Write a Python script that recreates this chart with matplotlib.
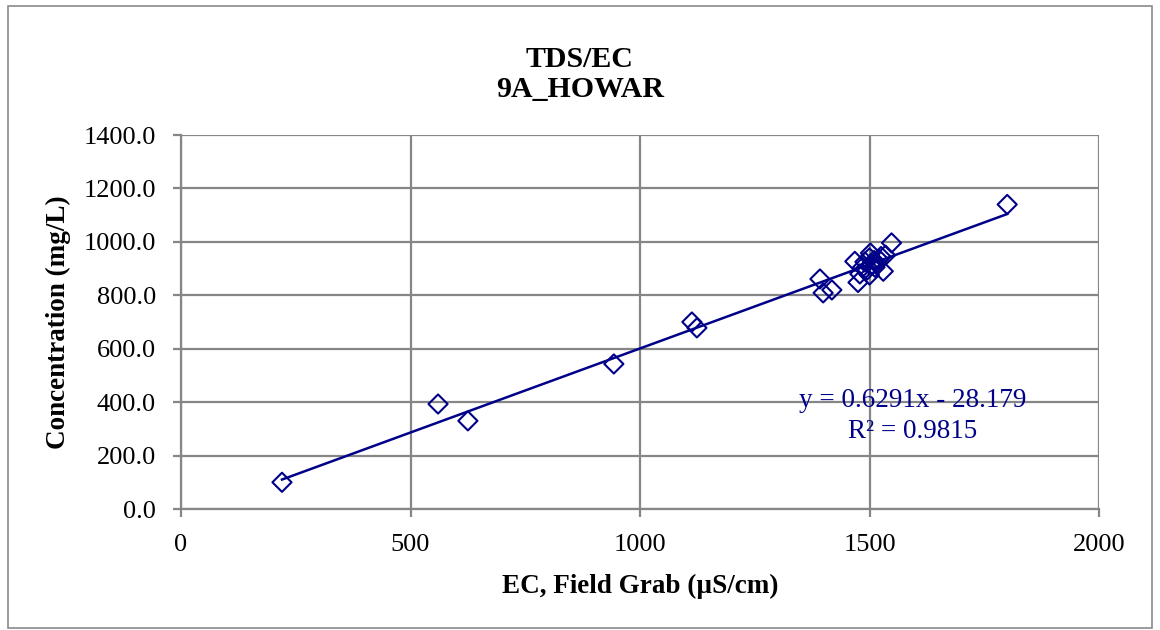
import matplotlib
matplotlib.use("Agg")
import matplotlib.pyplot as plt
from matplotlib.patches import Rectangle
import numpy as np

# Data
ec_field = [220, 560, 625, 943, 1113, 1124, 1392, 1399, 1418,
            1468, 1475, 1479, 1485, 1490, 1495, 1500, 1502, 1500, 1505,
            1510, 1515, 1520, 1525, 1530, 1535, 1512, 1548, 1800]
tds = [100, 393, 330, 543, 700, 678, 861, 809, 820,
       927, 848, 880, 905, 925, 895, 940, 958, 876, 915,
       930, 920, 935, 945, 890, 950, 905, 996, 1140]

slope = 0.6291
intercept = -28.179
r2 = 0.9815

title_lines = ["TDS/EC", "9A_HOWAR"]
x_label = "EC, Field Grab (µS/cm)"
y_label = "Concentration (mg/L)"
x_ticks = [0, 500, 1000, 1500, 2000]
y_ticks = [0, 200, 400, 600, 800, 1000, 1200, 1400]

navy = "#000088"
grid_c = "#868686"
serif = ["Liberation Serif", "DejaVu Serif"]

W, H = 1160, 630
fig = plt.figure(figsize=(W / 100, H / 100), dpi=100)
fig.patches.append(Rectangle((8 / W, 2 / H), 1144 / W, 622 / H, transform=fig.transFigure,
                             fill=False, edgecolor="#8a8a8a", linewidth=1.2))
ax = fig.add_axes([181 / W, 1 - 509 / H, (1099 - 181) / W, (509 - 135) / H])

ax.set_xlim(0, 2000)
ax.set_ylim(0, 1400)
ax.set_xticks(x_ticks)
ax.set_yticks(y_ticks)
ax.set_xticklabels([str(t) for t in x_ticks], fontfamily=serif, fontsize=19)
ax.set_yticklabels([f"{t:.1f}" for t in y_ticks], fontfamily=serif, fontsize=19)
ax.grid(True, color=grid_c, linewidth=1.6)
ax.set_axisbelow(True)
for s in ["top", "right"]:
    ax.spines[s].set_visible(False)
for s in ["left", "bottom"]:
    ax.spines[s].set_color(grid_c)
    ax.spines[s].set_linewidth(1.6)
ax.tick_params(axis="both", color=grid_c, width=1.6, length=6, direction="out")
ax.tick_params(axis="y", pad=12)
ax.tick_params(axis="x", pad=12)

xs = np.array([min(ec_field), max(ec_field)])
ax.plot(xs, slope * xs + intercept, color=navy, linewidth=1.8, zorder=3)
ax.scatter(ec_field, tds, marker="D", s=95, facecolors="none", edgecolors=navy,
           linewidths=1.5, zorder=4)

sign = "-" if intercept < 0 else "+"
ax.text(1595, 382, f"y = {slope}x {sign} {abs(intercept)}", ha="center", va="baseline",
        color=navy, fontsize=19.5, fontfamily=serif, zorder=5)
ax.text(1595, 266, f"R² = {r2}", ha="center", va="baseline",
        color=navy, fontsize=19.5, fontfamily=serif, zorder=5)

ax.set_xlabel(x_label, fontfamily=serif, fontsize=19.5, fontweight="bold", labelpad=13)
ax.set_ylabel(y_label, fontfamily=serif, fontsize=19.5, fontweight="bold", labelpad=9)
fig.text(0.5, 1 - 67 / H, title_lines[0], ha="center", va="baseline",
         fontfamily=serif, fontsize=21.5, fontweight="bold")
fig.text(0.5, 1 - 97 / H, title_lines[1], ha="center", va="baseline",
         fontfamily=serif, fontsize=21.5, fontweight="bold")

fig.savefig("out.png", dpi=100)
